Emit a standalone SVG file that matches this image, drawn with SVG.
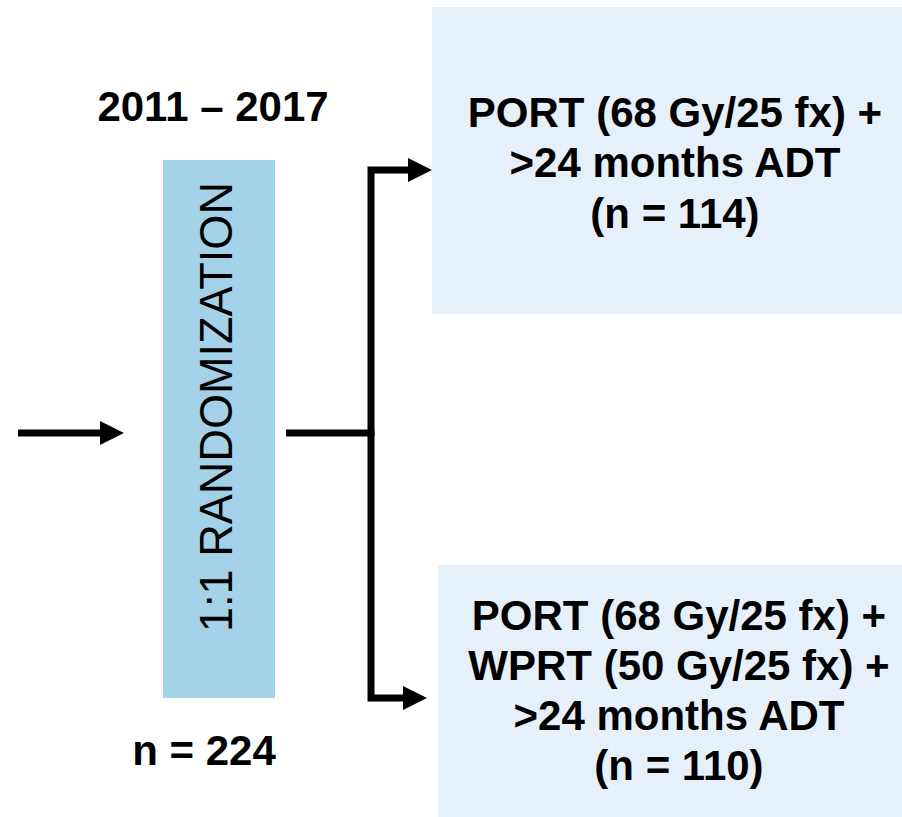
<svg xmlns="http://www.w3.org/2000/svg" width="902" height="817" viewBox="0 0 902 817">
  <style>
    .bold { font-family: "Liberation Sans", Arial, sans-serif; font-weight: bold; fill: #000; text-anchor: middle; }
    .arm { font-size: 42px; }
    .box { fill: #E6F0FA; }
    .conn { fill: none; stroke: #000; stroke-width: 7; stroke-linejoin: miter; }
  </style>
  <defs>
    <marker id="ah" markerUnits="userSpaceOnUse" markerWidth="24" markerHeight="24" viewBox="0 -12 24 24" refX="0" refY="0" orient="auto">
      <path d="M0,-12 L24,0 L0,12 Z" fill="#000"/>
    </marker>
  </defs>
  <rect width="902" height="817" fill="#fff"/>

  <g id="period">
    <text class="bold" x="213" y="121" font-size="42">2011 – 2017</text>
  </g>

  <g id="randomization">
    <rect x="163" y="160" width="112" height="538" fill="#A3D2E8"/>
    <text transform="translate(232,407) rotate(-90)" x="0" y="0" font-family="'Liberation Sans', Arial, sans-serif" font-size="47" text-anchor="middle" textLength="450" lengthAdjust="spacingAndGlyphs" fill="#000">1:1 RANDOMIZATION</text>
  </g>

  <g id="sample">
    <text class="bold" x="204" y="765" font-size="42">n = 224</text>
  </g>

  <g id="arm-port">
    <rect class="box" x="432" y="7" width="470" height="307"/>
    <text class="bold arm" x="675" y="127">PORT (68 Gy/25 fx) +</text>
    <text class="bold arm" x="675" y="177">&gt;24 months ADT</text>
    <text class="bold arm" x="675" y="228">(n = 114)</text>
  </g>

  <g id="arm-wprt">
    <rect class="box" x="438" y="565" width="464" height="252"/>
    <text class="bold arm" x="679" y="630">PORT (68 Gy/25 fx) +</text>
    <text class="bold arm" x="679" y="680">WPRT (50 Gy/25 fx) +</text>
    <text class="bold arm" x="679" y="730">&gt;24 months ADT</text>
    <text class="bold arm" x="679" y="780">(n = 110)</text>
  </g>

  <g id="connectors">
    <path class="conn" d="M18,433 H100" marker-end="url(#ah)"/>
    <path class="conn" d="M286,433 H371"/>
    <path class="conn" d="M371,436 V170 H408" marker-end="url(#ah)"/>
    <path class="conn" d="M371,430 V698 H403" marker-end="url(#ah)"/>
  </g>
</svg>
